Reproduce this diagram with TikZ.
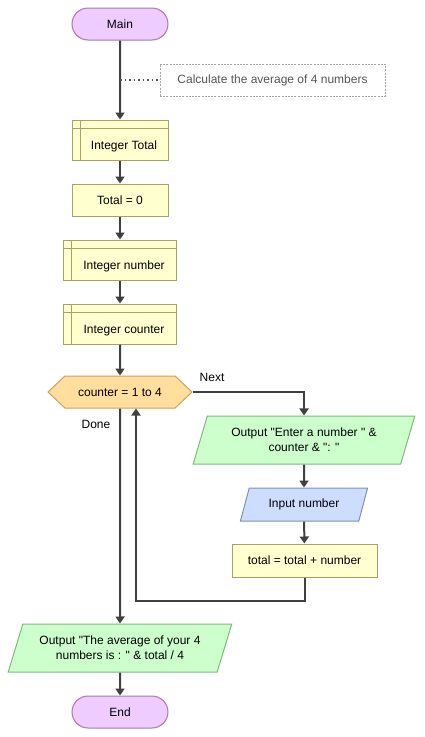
\documentclass[tikz,border=0pt]{standalone}
\usepackage{fontspec}
\setmainfont{Liberation Sans}[Ligatures=TeXOff]
\usepackage{tikz}
\usetikzlibrary{arrows.meta, calc, positioning, shapes.geometric, shapes.misc, shapes.symbols}
\definecolor{fcline}{HTML}{404040}
\definecolor{termfill}{HTML}{EECCFF}
\definecolor{termdraw}{HTML}{A07BB0}
\definecolor{procfill}{HTML}{FFFFD0}
\definecolor{procdraw}{HTML}{A8A266}
\definecolor{loopfill}{HTML}{FFDE9E}
\definecolor{loopdraw}{HTML}{CFA060}
\definecolor{outfill}{HTML}{CCFFCC}
\definecolor{outdraw}{HTML}{80B880}
\definecolor{infill}{HTML}{CCDDFF}
\definecolor{indraw}{HTML}{7C90B8}
\definecolor{notegray}{HTML}{555555}
\tikzset{
  fcfont/.style   = {font=\fontsize{12}{15}\selectfont},
  fcterm/.style   = {fcfont, rounded rectangle, fill=termfill, draw=termdraw,
                     line width=1pt, minimum width=96pt, minimum height=32pt,
                     inner sep=0pt},
  fcproc/.style   = {fcfont, rectangle, fill=procfill, draw=procdraw,
                     line width=1pt, minimum height=32pt, inner sep=0pt},
  fcdecl/.style   = {fcproc, minimum height=40pt, text height=20pt, text depth=1pt,
                     path picture={
                       \draw[procdraw, line width=1pt]
                         ([xshift=8pt]path picture bounding box.north west) --
                         ([xshift=8pt]path picture bounding box.south west)
                         ([yshift=-8pt]path picture bounding box.north west) --
                         ([yshift=-8pt]path picture bounding box.north east);}},
  fcloop/.style   = {fcfont, signal, signal to=west and east,
                     signal pointer angle=87, fill=loopfill, draw=loopdraw,
                     line width=1pt, minimum width=144pt, minimum height=32pt,
                     inner sep=0pt},
  fcio/.style     = {fcfont, trapezium, trapezium stretches=true,
                     line width=1pt, inner sep=0pt, align=center},
  fcout/.style    = {fcio, fill=outfill, draw=outdraw},
  fcin/.style     = {fcio, fill=infill, draw=indraw},
  fcnote/.style   = {fcfont, text=notegray, draw=gray!70, line width=0.8pt,
                     dash pattern=on 2pt off 1.2pt, minimum width=225pt,
                     minimum height=32pt, inner sep=0pt},
  fcflow/.style   = {draw=fcline, line width=2pt,
                     -{Triangle[length=7pt, width=9pt]}},
  fclabel/.style  = {fcfont, inner sep=0pt},
}

\begin{document}
\begin{tikzpicture}[x=1pt, y=-1pt]
    \useasboundingbox (0,0) rectangle (425,737);
    \node[fcterm] (main) at (120,24) {Main};
    \node[fcnote] (note) at (272.5,80) {Calculate the average of 4 numbers};
    \coordinate (notept) at (120,80);
    \node[fcdecl, minimum width=96pt] (itot) at (120,140) {\hspace*{8pt}Integer Total};
    \node[fcproc, minimum width=96pt] (tot0) at (120,200) {Total = 0};
    \node[fcdecl, minimum width=113pt] (inum) at (120,260) {\hspace*{8pt}Integer number};
    \node[fcdecl, minimum width=113pt] (icnt) at (120,324) {\hspace*{8pt}Integer counter};
    \node[fcloop] (loop) at (120,392) {counter = 1 to 4};
    \node[fcout, trapezium left angle=66, trapezium right angle=114,
      minimum width=222pt, minimum height=48pt] (askn) at (304,440)
      {Output "Enter a number " \&\\counter \& ": "};
    \node[fcin, trapezium left angle=63, trapezium right angle=117,
      minimum width=128pt, minimum height=33pt] (inp) at (304,504.5) {Input number};
    \node[fcproc, minimum width=145pt, minimum height=33pt] (addn) at (304.5,560.5)
      {total = total + number};
    \node[fcout, trapezium left angle=63, trapezium right angle=117,
      minimum width=224pt, minimum height=48pt] (avg) at (120,648)
      {Output "The average of your 4\\numbers is : " \& total / 4};
    \node[fcterm] (end) at (120,712) {End};
    \node[fclabel] (nextlab) at (212,377) {Next};
    \node[fclabel] (donelab) at (96,424) {Done};
    % main flow
    \draw[fcflow] (main) -- (itot);
    \draw[notegray, line width=1.5pt, dash pattern=on 1.5pt off 3pt] (notept) -- (note.west);
    \draw[fcflow] (itot) -- (tot0);
    \draw[fcflow] (tot0) -- (inum);
    \draw[fcflow] (inum) -- (icnt);
    \draw[fcflow] (icnt) -- (loop);
    % loop body
    \draw[fcflow] (loop.east) -| (askn.north);
    \draw[fcflow] (askn) -- (inp);
    \draw[fcflow] (inp) -- (addn);
    \draw[fcflow] (addn.south) -- ++(0,23) -| ([xshift=16pt]loop.south);
    % done
    \draw[fcflow] (loop.south) -- (avg.north);
    \draw[fcflow] (avg) -- (end);
  \end{tikzpicture}
\end{document}
